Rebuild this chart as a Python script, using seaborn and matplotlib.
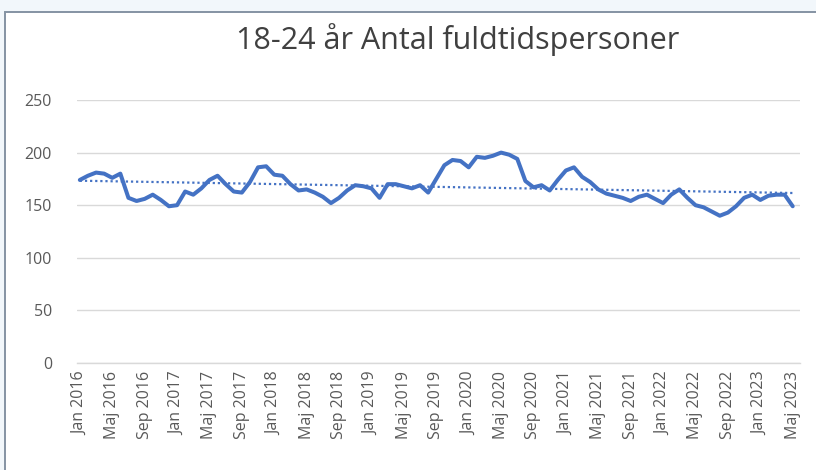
import numpy as np
import pandas as pd
import matplotlib
matplotlib.use("Agg")
import matplotlib.pyplot as plt
import seaborn as sns
from matplotlib.patches import Rectangle

# ---------------------------------------------------------------------------
# Data: monthly full-time persons aged 18-24, Jan 2016 - Maj 2023
# ---------------------------------------------------------------------------
month_names = ["Jan", "Feb", "Mar", "Apr", "Maj", "Jun",
               "Jul", "Aug", "Sep", "Okt", "Nov", "Dec"]
years = list(range(2016, 2024))
months = [f"{m} {y}" for y in years for m in month_names][:89]

values = [
    174, 178, 181, 180, 176, 180, 157, 154, 156, 160, 155, 149,   # 2016
    150, 163, 160, 166, 174, 178, 170, 163, 162, 172, 186, 187,   # 2017
    179, 178, 170, 164, 165, 162, 158, 152, 157, 164, 169, 168,   # 2018
    166, 157, 170, 170, 168, 166, 169, 162, 175, 188, 193, 192,   # 2019
    186, 196, 195, 197, 200, 198, 194, 173, 167, 169, 164, 174,   # 2020
    183, 186, 177, 172, 165, 161, 159, 157, 154, 158, 160, 156,   # 2021
    152, 160, 165, 157, 150, 148, 144, 140, 143, 149, 157, 160,   # 2022
    155, 159, 160, 160, 149,                                      # 2023
]

title = "18-24 år Antal fuldtidspersoner"
tick_step = 4
y_ticks = [0, 50, 100, 150, 200, 250]

df = pd.DataFrame({"idx": np.arange(len(values)), "Måned": months, "Antal": values})

# linear trend line (like Excel's trendline)
slope, intercept = np.polyfit(df["idx"], df["Antal"], 1)
df["Trend"] = slope * df["idx"] + intercept

# ---------------------------------------------------------------------------
# Plot
# ---------------------------------------------------------------------------
sns.set_style("white")
plt.rcParams["font.family"] = ["Open Sans", "DejaVu Sans"]

blue = "#4472C4"
grey_text = "#595959"

fig = plt.figure(figsize=(8.16, 4.70), dpi=100, facecolor="#F2F7FB")
frame = Rectangle((5 / 816, -0.01), 1.0, 1 - 12 / 470 + 0.01,
                  transform=fig.transFigure, facecolor="white",
                  edgecolor="#8593A3", linewidth=1.4, zorder=-5)
fig.add_artist(frame)

ax = fig.add_axes([77 / 816, 1 - 363 / 470, (800 - 77) / 816, (363 - 100) / 470])
ax.set_facecolor("none")

sns.lineplot(data=df, x="idx", y="Trend", ax=ax, color=blue, linewidth=1.6,
             linestyle=(0, (1, 1.3)), zorder=2)
sns.lineplot(data=df, x="idx", y="Antal", ax=ax, color=blue, linewidth=2.9,
             zorder=3, solid_joinstyle="round")

ax.set_ylim(0, 250)
ax.set_xlim(-0.35, len(values) - 0.1)
ax.set_yticks(y_ticks)
ax.set_xticks(df["idx"][::tick_step])
ax.set_xticklabels(df["Måned"][::tick_step], rotation=90)
ax.tick_params(axis="both", length=0, labelsize=11.5, labelcolor=grey_text)
ax.tick_params(axis="y", pad=18)
ax.tick_params(axis="x", pad=6)
ax.set_xlabel("")
ax.set_ylabel("")

ax.grid(axis="y", color="#D9D9D9", linewidth=1.0)
ax.set_axisbelow(True)
for side in ["top", "right", "left"]:
    ax.spines[side].set_visible(False)
ax.spines["bottom"].set_color("#D9D9D9")
ax.spines["bottom"].set_linewidth(1.0)

fig.text(458 / 816, 1 - 40 / 470, title, ha="center", va="center",
         fontsize=22, color="#404040")

fig.savefig("out.png", dpi=100, facecolor=fig.get_facecolor())
